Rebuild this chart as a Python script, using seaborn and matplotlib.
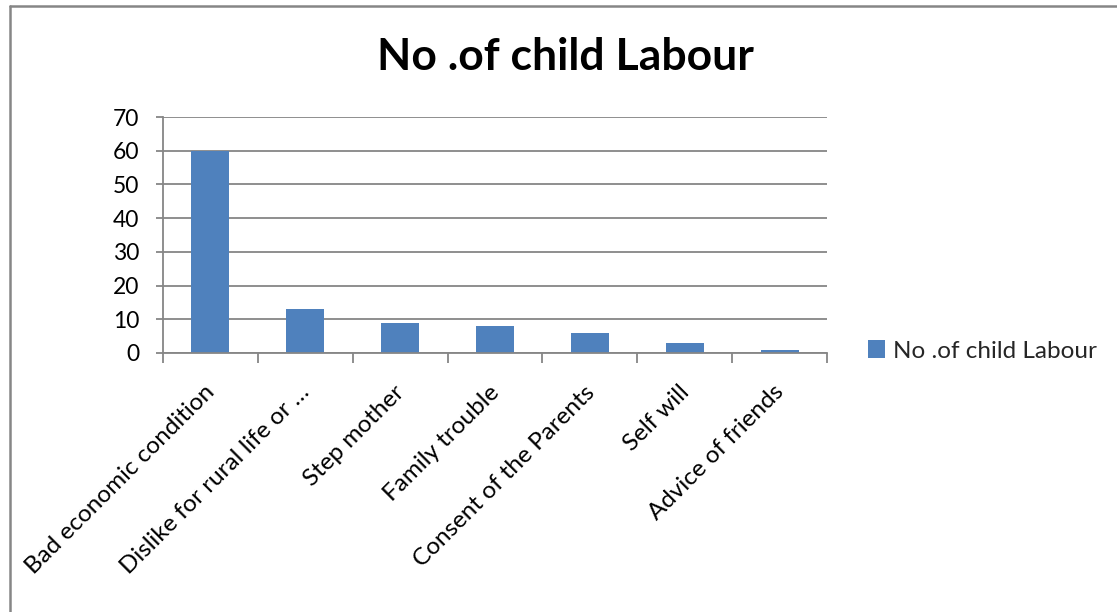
import matplotlib
matplotlib.use("Agg")
import matplotlib.pyplot as plt
import seaborn as sns
import pandas as pd
from matplotlib.lines import Line2D

categories = ["Bad economic condition", "Dislike for rural life or \u2026", "Step mother",
              "Family trouble", "Consent of the Parents", "Self will", "Advice of friends"]
values = [60, 13, 9, 8, 6, 3, 1]
series_name = "No .of child Labour"
y_ticks = [0, 10, 20, 30, 40, 50, 60, 70]

sns.set_theme(style="white")
plt.rcParams["font.family"] = ["Lato", "DejaVu Sans"]

df = pd.DataFrame({"cause": categories, "count": values})

W, H = 1117, 612
fig = plt.figure(figsize=(W / 100, H / 100), dpi=100)
ax = fig.add_axes([163 / W, 1 - 353 / H, (827 - 163) / W, (353 - 117) / H])

bar_color = "#4F81BD"
sns.barplot(data=df, x="cause", y="count", color=bar_color, width=0.4,
            saturation=1, ax=ax, label=series_name, linewidth=0)
if ax.get_legend() is not None:
    ax.get_legend().remove()

ax.set_ylim(0, 70)
ax.set_xlim(-0.5, len(categories) - 0.5)
ax.set_yticks(y_ticks)
ax.set_yticklabels([str(t) for t in y_ticks], fontsize=16.5)
ax.yaxis.grid(True, color="#868686", linewidth=1.3)
ax.set_axisbelow(True)
ax.set_xlabel("")
ax.set_ylabel("")

for side in ["top", "right"]:
    ax.spines[side].set_visible(False)
for side in ["left", "bottom"]:
    ax.spines[side].set_color("#868686")
    ax.spines[side].set_linewidth(1.3)

ax.tick_params(axis="y", left=True, length=5, width=1.3, color="#868686", pad=12,
               labelcolor="black")
# category boundary ticks on the x axis
ax.set_xticks([i - 0.5 for i in range(len(categories) + 1)])
ax.set_xticklabels([""] * (len(categories) + 1))
ax.tick_params(axis="x", bottom=True, length=7, width=1.3, color="#868686")
for i, lab in enumerate(categories):
    ax.annotate(lab, xy=(i, 0), xycoords=("data", "axes fraction"),
                xytext=(-4.5, -20.5), textcoords="offset points",
                rotation=45, ha="right", va="top", rotation_mode="anchor",
                fontsize=17.5, color="black")

fig.text(565 / W, 1 - 57 / H, "No .of child Labour", ha="center", va="center",
         fontsize=32, fontweight="bold", color="black")

handles, labels = ax.get_legend_handles_labels()
fig.legend(handles, labels, loc="center left", bbox_to_anchor=(858 / W, 1 - 351 / H),
           frameon=False, fontsize=17.5, handlelength=0.7, handleheight=0.7,
           handletextpad=0.35, borderaxespad=0)

# chart-area frame (top and left edges)
fig.add_artist(Line2D([10 / W, 1.0], [1 - 6 / H, 1 - 6 / H], transform=fig.transFigure,
                      color="#868686", linewidth=1.8))
fig.add_artist(Line2D([10 / W, 10 / W], [0.0, 1 - 6 / H], transform=fig.transFigure,
                      color="#868686", linewidth=1.8))

fig.savefig("out.png", dpi=100, facecolor="white")
